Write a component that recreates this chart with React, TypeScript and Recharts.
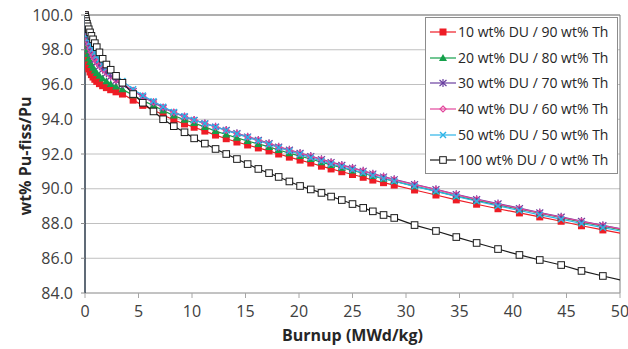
import React from 'react';
import { LineChart, Line, XAxis, YAxis, CartesianGrid, Legend, ReferenceLine } from 'recharts';

// Burnup (MWd/kg) at each calculation step
const burnup = [
  0, 0.03, 0.07, 0.12, 0.18, 0.25, 0.35, 0.47, 0.6, 0.75, 0.92, 1.1, 1.35, 1.65, 2.0, 2.4, 2.9, 3.5,
  4.5, 5.4, 6.4, 7.3, 8.3, 9.3, 10.2, 11.2, 12.2, 13.2, 14.2, 15.2, 16.2, 17.2, 18.1, 19.1, 20.1,
  21.1, 22.1, 23.0, 24.0, 25.0, 26.0, 26.9, 27.9, 28.9, 30.8, 32.8, 34.7, 36.6, 38.6, 40.6, 42.5,
  44.5, 46.4, 48.4, 50.4,
];

const du10 = [
  100, 98.9, 98.2, 97.7, 97.35, 97.1, 96.9, 96.72, 96.57, 96.43, 96.3, 96.18, 96.05, 95.93, 95.82, 95.7, 95.58, 95.45,
  95.1, 94.8, 94.53, 94.24, 93.96, 93.73, 93.54, 93.32, 93.09, 92.88, 92.69, 92.52, 92.35, 92.18, 92.0, 91.82, 91.65,
  91.48, 91.3, 91.14, 90.98, 90.82, 90.66, 90.5, 90.35, 90.21, 89.93, 89.64, 89.36, 89.11, 88.85, 88.61, 88.38,
  88.13, 87.87, 87.63, 87.4,
];

const du20 = [
  100, 99.2, 98.7, 98.3, 98.0, 97.75, 97.5, 97.3, 97.12, 96.96, 96.8, 96.66, 96.5, 96.34, 96.18, 96.03, 95.88, 95.72,
  95.38, 95.07, 94.79, 94.5, 94.21, 93.97, 93.78, 93.56, 93.32, 93.12, 92.93, 92.75, 92.58, 92.41, 92.23, 92.05, 91.88,
  91.71, 91.53, 91.37, 91.21, 91.05, 90.89, 90.73, 90.58, 90.44, 90.15, 89.86, 89.58, 89.33, 89.07, 88.82, 88.59,
  88.34, 88.08, 87.84, 87.6,
];

const du30 = [
  100, 99.5, 99.2, 98.9, 98.65, 98.42, 98.2, 97.98, 97.78, 97.6, 97.42, 97.25, 97.05, 96.85, 96.65, 96.45, 96.22, 96.0,
  95.62, 95.3, 94.97, 94.66, 94.38, 94.15, 93.95, 93.76, 93.57, 93.38, 93.19, 93.0, 92.81, 92.62, 92.42, 92.24, 92.06,
  91.88, 91.7, 91.53, 91.37, 91.2, 91.03, 90.87, 90.7, 90.54, 90.26, 89.97, 89.68, 89.4, 89.15, 88.88, 88.63,
  88.39, 88.14, 87.9, 87.66,
];

const du40 = [
  100, 99.55, 99.26, 98.96, 98.71, 98.48, 98.26, 98.04, 97.84, 97.66, 97.48, 97.3, 97.1, 96.9, 96.7, 96.5, 96.27, 96.05,
  95.66, 95.33, 94.99, 94.69, 94.4, 94.16, 93.96, 93.76, 93.56, 93.37, 93.18, 92.99, 92.8, 92.6, 92.41, 92.22, 92.04,
  91.86, 91.68, 91.51, 91.34, 91.18, 91.01, 90.85, 90.68, 90.52, 90.24, 89.95, 89.66, 89.38, 89.12, 88.86, 88.61,
  88.36, 88.12, 87.88, 87.64,
];

const du50 = [
  100, 99.7, 99.5, 99.3, 99.1, 98.9, 98.68, 98.45, 98.25, 98.05, 97.85, 97.65, 97.42, 97.17, 96.95, 96.72, 96.48, 96.2,
  95.72, 95.37, 95.03, 94.72, 94.42, 94.17, 93.96, 93.76, 93.56, 93.36, 93.16, 92.96, 92.76, 92.56, 92.36, 92.17, 91.98,
  91.79, 91.6, 91.43, 91.26, 91.09, 90.92, 90.76, 90.59, 90.43, 90.14, 89.85, 89.56, 89.28, 89.01, 88.75, 88.5,
  88.25, 88.0, 87.76, 87.52,
];

const du100 = [
  100, 99.9, 99.78, 99.65, 99.5, 99.35, 99.18, 99.0, 98.8, 98.6, 98.38, 98.15, 97.85, 97.48, 97.15, 96.85, 96.5, 96.1,
  95.45, 94.95, 94.45, 94.0, 93.6, 93.25, 92.9, 92.6, 92.29, 92.0, 91.71, 91.42, 91.14, 90.9, 90.68, 90.42, 90.16,
  89.96, 89.76, 89.55, 89.35, 89.12, 88.9, 88.7, 88.49, 88.32, 87.91, 87.57, 87.22, 86.88, 86.53, 86.19, 85.9,
  85.61, 85.27, 84.98, 84.7,
];

const xTicks = [0, 5, 10, 15, 20, 25, 30, 35, 40, 45, 50];
const yTicks = [84, 86, 88, 90, 92, 94, 96, 98, 100];

const seriesDefs = [
  { key: 'du10', name: '10 wt% DU / 90 wt% Th', color: '#EE1C25', marker: 'square' },
  { key: 'du20', name: '20 wt% DU / 80 wt% Th', color: '#14A04A', marker: 'triangle' },
  { key: 'du30', name: '30 wt% DU / 70 wt% Th', color: '#6A3FA0', marker: 'star' },
  { key: 'du40', name: '40 wt% DU / 60 wt% Th', color: '#E2479C', marker: 'diamond' },
  { key: 'du50', name: '50 wt% DU / 50 wt% Th', color: '#2DB4E8', marker: 'x' },
  { key: 'du100', name: '100 wt% DU / 0 wt% Th', color: '#1a1a1a', marker: 'hsquare' },
];

const data = burnup.map((x, i) => ({
  x,
  du10: du10[i],
  du20: du20[i],
  du30: du30[i],
  du40: du40[i],
  du50: du50[i],
  du100: du100[i],
}));

const FONT = '"Open Sans", "DejaVu Sans", sans-serif';

function Marker({ kind, cx, cy, color }: { kind: string; cx: number; cy: number; color: string }) {
  switch (kind) {
    case 'square':
      return <rect x={cx - 3.5} y={cy - 3.5} width={7} height={7} fill={color} />;
    case 'triangle':
      return <polygon points={`${cx},${cy - 4} ${cx + 4},${cy + 3} ${cx - 4},${cy + 3}`} fill={color} />;
    case 'star':
      return (
        <g stroke={color} strokeWidth={1.2}>
          <line x1={cx} y1={cy - 4} x2={cx} y2={cy + 4} />
          <line x1={cx - 3.5} y1={cy - 3} x2={cx + 3.5} y2={cy + 3} />
          <line x1={cx - 3.5} y1={cy + 3} x2={cx + 3.5} y2={cy - 3} />
        </g>
      );
    case 'diamond':
      return (
        <polygon
          points={`${cx},${cy - 3} ${cx + 3},${cy} ${cx},${cy + 3} ${cx - 3},${cy}`}
          fill="none"
          stroke={color}
          strokeWidth={1.2}
        />
      );
    case 'x':
      return (
        <g stroke={color} strokeWidth={1.4}>
          <line x1={cx - 3} y1={cy - 3} x2={cx + 3} y2={cy + 3} />
          <line x1={cx - 3} y1={cy + 3} x2={cx + 3} y2={cy - 3} />
        </g>
      );
    default:
      return <rect x={cx - 3.3} y={cy - 3.3} width={6.6} height={6.6} fill="#fff" stroke={color} strokeWidth={1} />;
  }
}

const renderLegend = () => (
  <div
    style={{
      border: '1px solid #8c8c8c',
      background: '#fff',
      boxSizing: 'border-box',
      width: '100%',
      height: '100%',
      paddingTop: 1,
    }}
  >
    {seriesDefs.map((s) => (
      <div key={s.key} style={{ height: 25.7, display: 'flex', alignItems: 'center', paddingLeft: 4 }}>
        <svg width={26} height={12} style={{ display: 'block' }}>
          <line x1={0} y1={6} x2={26} y2={6} stroke={s.color} strokeWidth={1.2} />
          <Marker kind={s.marker} cx={13} cy={6} color={s.color} />
        </svg>
        <span
          style={{
            marginLeft: 2,
            fontFamily: FONT,
            fontSize: 14,
            color: '#262626',
            whiteSpace: 'nowrap',
            lineHeight: '16px',
          }}
        >
          {s.name}
        </span>
      </div>
    ))}
  </div>
);

export default function App() {
  return (
    <div style={{ position: 'absolute', left: 0, top: 0, width: 628, height: 349, background: '#fff' }}>
      <LineChart width={628} height={349} data={data} margin={{ top: 15, right: 8, left: 0, bottom: 0 }}>
        <CartesianGrid horizontal vertical={false} stroke="#c0c0c0" strokeWidth={1} />
        <ReferenceLine y={100} stroke="#7f7f7f" strokeWidth={1} />
        <ReferenceLine x={50} stroke="#7f7f7f" strokeWidth={1} />
        <XAxis
          dataKey="x"
          type="number"
          domain={[0, 50]}
          ticks={xTicks}
          allowDataOverflow
          height={56}
          tickSize={5}
          tickMargin={8}
          axisLine={{ stroke: '#a6a6a6' }}
          tickLine={{ stroke: '#a6a6a6' }}
          tick={{ fontFamily: FONT, fontSize: 16, fill: '#404040' }}
          label={{
            content: (props: any) => {
              const vb = props.viewBox || {};
              return (
                <text
                  x={vb.x + vb.width / 2}
                  y={341}
                  textAnchor="middle"
                  fontFamily={FONT}
                  fontSize={16}
                  fontWeight="bold"
                  fill="#262626"
                >
                  Burnup (MWd/kg)
                </text>
              );
            },
          }}
        />
        <YAxis
          type="number"
          domain={[84, 100]}
          ticks={yTicks}
          width={85}
          tickSize={4}
          tickMargin={8}
          tickFormatter={(v: number) => v.toFixed(1)}
          axisLine={{ stroke: '#2b3a4a', strokeWidth: 1.5 }}
          tickLine={{ stroke: '#8c8c8c' }}
          tick={{ fontFamily: FONT, fontSize: 16, fill: '#404040' }}
          label={{
            content: () => (
              <text
                x={25}
                y={156}
                transform="rotate(-90 25 156)"
                textAnchor="middle"
                dominantBaseline="central"
                fontFamily={FONT}
                fontSize={16}
                fontWeight="bold"
                fill="#262626"
              >
                wt% Pu-fiss/Pu
              </text>
            ),
          }}
        />
        <Legend
          layout="vertical"
          align="center"
          verticalAlign="middle"
          content={renderLegend}
          wrapperStyle={{ left: 425, top: 17, width: 193, height: 157 }}
        />
        {seriesDefs.map((s) => (
          <Line
            key={s.key}
            dataKey={s.key}
            name={s.name}
            stroke={s.color}
            strokeWidth={1.2}
            isAnimationActive={false}
            dot={(p: any) =>
              p.cx == null || p.cy == null ? (
                <g key={p.key} />
              ) : (
                <Marker key={p.key} kind={s.marker} cx={p.cx} cy={p.cy} color={s.color} />
              )
            }
            activeDot={false}
          />
        ))}
      </LineChart>
    </div>
  );
}
